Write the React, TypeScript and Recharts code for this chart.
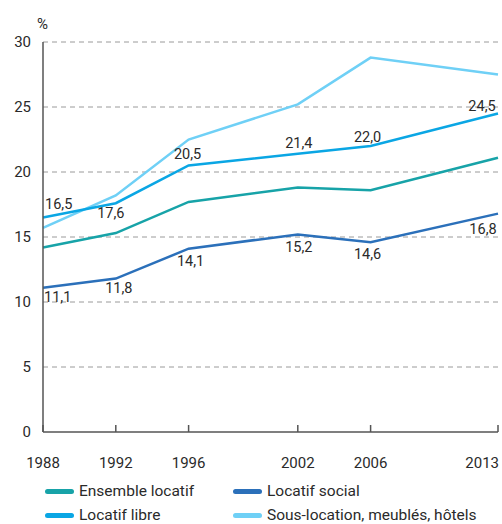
import { CartesianGrid, Line, LineChart, XAxis, YAxis } from "recharts";

const YEARS = [1988, 1992, 1996, 2002, 2006, 2013];
const ENSEMBLE = [14.2, 15.3, 17.7, 18.8, 18.6, 21.1];
const SOCIAL = [11.1, 11.8, 14.1, 15.2, 14.6, 16.8];
const LIBRE = [16.5, 17.6, 20.5, 21.4, 22.0, 24.5];
const SOUS_LOC = [15.7, 18.2, 22.5, 25.2, 28.8, 27.5];
const Y_TICKS = [0, 5, 10, 15, 20, 25, 30];

const SERIES = [
  { key: "ensemble", name: "Ensemble locatif", color: "#17a3a8" },
  { key: "social", name: "Locatif social", color: "#2b70ba" },
  { key: "libre", name: "Locatif libre", color: "#0aa6e4" },
  { key: "sous", name: "Sous-location, meublés, hôtels", color: "#6fd0f6" },
];

const data = YEARS.map((year, i) => ({
  year,
  ensemble: ENSEMBLE[i],
  social: SOCIAL[i],
  libre: LIBRE[i],
  sous: SOUS_LOC[i],
}));

const FONT = "Roboto, 'Liberation Sans', sans-serif";
const fmt = (v: number) => v.toFixed(1).replace(".", ",");

// label offsets relative to the point: [dx, dy, anchor]
const LIBRE_POS: [number, number, string][] = [
  [2, -13, "start"],
  [-5, 10, "middle"],
  [-1, -11, "middle"],
  [1, -10, "middle"],
  [-3, -9, "middle"],
  [-16, -7, "middle"],
];
const SOCIAL_POS: [number, number, string][] = [
  [1, 10, "start"],
  [3, 10, "middle"],
  [2, 13, "middle"],
  [1, 13, "middle"],
  [-3, 12, "middle"],
  [-15, 16, "middle"],
];

const makeLabel = (pos: [number, number, string][]) => (props: any) => {
  const { x, y, value, index } = props;
  const [dx, dy, anchor] = pos[index];
  return (
    <text
      x={x + dx}
      y={y + dy}
      textAnchor={anchor as any}
      dominantBaseline="central"
      fontSize={14.5}
      fontFamily={FONT}
      fill="#2a2a2a"
    >
      {fmt(value)}
    </text>
  );
};

const XTick = (props: any) => {
  const { x, y, payload, index } = props;
  const last = index === YEARS.length - 1;
  return (
    <g>
      <line x1={x} x2={x} y1={y} y2={y - 7} stroke="#555" strokeWidth={1.5} />
      <text
        x={last ? x + 1 : x}
        y={y + 31}
        textAnchor={last ? "end" : "middle"}
        dominantBaseline="central"
        fontSize={15}
        fontFamily={FONT}
        fill="#2a2a2a"
      >
        {payload.value}
      </text>
    </g>
  );
};

export default function App() {
  return (
    <div style={{ position: "absolute", left: 0, top: 0, width: 502, height: 524, background: "#fff", fontFamily: FONT }}>
      <div style={{ position: "absolute", left: 37, top: 15, fontSize: 15, color: "#2a2a2a" }}>%</div>
      <LineChart width={502} height={524} data={data} margin={{ top: 42, right: 4, left: 0, bottom: 62 }}>
        <CartesianGrid vertical={false} stroke="#9a9a9a" strokeDasharray="5 4" horizontalValues={[5, 10, 15, 20, 25, 30]} />
        <XAxis
          dataKey="year"
          type="number"
          domain={[1988, 2013]}
          ticks={YEARS}
          height={30}
          tickSize={0}
          tickMargin={0}
          tickLine={false}
          tick={<XTick />}
          axisLine={{ stroke: "#555", strokeWidth: 1.5 }}
          interval={0}
        />
        <YAxis
          domain={[0, 30]}
          ticks={Y_TICKS}
          width={43}
          tickSize={0}
          tickMargin={12}
          tickLine={false}
          axisLine={{ stroke: "#555", strokeWidth: 1.5 }}
          tick={{ fontSize: 15, fontFamily: FONT, fill: "#2a2a2a" }}
          interval={0}
        />
        <Line dataKey="sous" stroke={SERIES[3].color} strokeWidth={2.5} dot={false} isAnimationActive={false} />
        <Line dataKey="ensemble" stroke={SERIES[0].color} strokeWidth={2.5} dot={false} isAnimationActive={false} />
        <Line dataKey="social" stroke={SERIES[1].color} strokeWidth={2.5} dot={false} isAnimationActive={false} label={makeLabel(SOCIAL_POS)} />
        <Line dataKey="libre" stroke={SERIES[2].color} strokeWidth={2.5} dot={false} isAnimationActive={false} label={makeLabel(LIBRE_POS)} />
      </LineChart>
      {SERIES.map((s, i) => (
        <div
          key={s.key}
          style={{
            position: "absolute",
            left: i % 2 === 0 ? 45 : 233,
            top: i < 2 ? 483 : 507,
            height: 16,
            lineHeight: "16px",
            display: "flex",
            alignItems: "center",
            fontSize: 15.5,
            color: "#2a2a2a",
            whiteSpace: "nowrap",
          }}
        >
          <span style={{ display: "inline-block", width: 29, height: 5, borderRadius: 3, background: s.color, marginRight: 5 }} />
          {s.name}
        </div>
      ))}
    </div>
  );
}
